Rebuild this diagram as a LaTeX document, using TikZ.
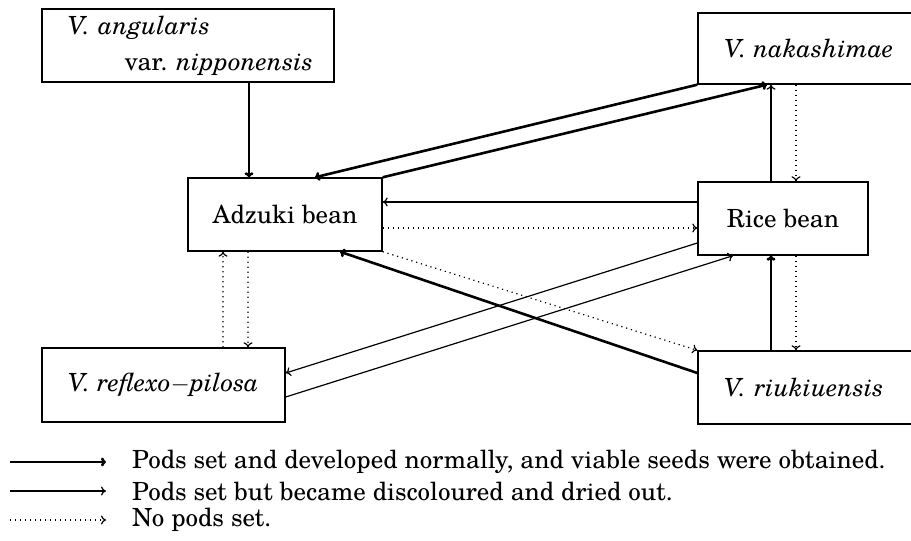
\documentclass[tikz,border=0pt]{standalone}
\usepackage{fontspec}
\IfFontExistsTF{TeX Gyre Schola}{\setmainfont{TeX Gyre Schola}}{\setmainfont{Latin Modern Roman}[FakeStretch=1.15]}
\usetikzlibrary{arrows.meta,calc}
\begin{document}
\begin{tikzpicture}[x=1bp,y=-1bp,
  box/.style={draw, line width=1.4bp, rectangle, inner sep=0pt, font=\fontsize{25bp}{30bp}\selectfont},
  thk/.style={line width=2.6bp, -{To[length=5bp,width=9bp]}},
  thn/.style={line width=1.2bp, -{To[length=5bp,width=9bp]}},
  dotarr/.style={line width=1.2bp, dash pattern=on 1.2bp off 3.8bp, -{To[length=5bp,width=9bp]}},
  lgd/.style={font=\fontsize{25bp}{30bp}\selectfont, anchor=west, inner sep=0pt}]
\useasboundingbox (0,0) rectangle (911,541);
% boxes
\node[box, minimum width=292bp, minimum height=73bp, text width=250bp, inner xsep=21bp, align=left,
      font=\fontsize{25bp}{36bp}\selectfont] (ang) at (188,45.5)
      {\hspace*{5bp}\textit{V. angularis}\\\makebox[250bp][r]{var.\ \textit{nipponensis}}};
\node[box, minimum width=194bp, minimum height=73bp] (adz) at (285,214.5) {Adzuki bean};
\node[box, minimum width=222bp, minimum height=71bp] (nak) at (809,48.5) {\textit{V. nakashimae}};
\node[box, minimum width=170bp, minimum height=73bp] (rice) at (783,218.5) {Rice bean};
\node[box, minimum width=243bp, minimum height=74bp] (ref) at (163.5,385) {\textit{V. reflexo}$-$\textit{pilosa}};
\node[box, minimum width=225bp, minimum height=73bp, text width=173bp, inner xsep=26bp, align=left] (riu) at (810.5,387.5) {\textit{V. riukiuensis}};
% connectors
\draw[thk] ($(ang.south)+(61,0)$) -- ($(adz.north)+(-36,0)$);
\draw[thk] (adz.north east) -- ($(nak.south)+(-42,0)$);
\draw[thk] (nak.south west) -- ($(adz.north)+(30,0)$);
\draw[thn] ($(rice.west)+(0,-16.5)$) -- ($(adz.east)+(0,-12.5)$);
\draw[dotarr] ($(adz.east)+(0,13.5)$) -- ($(rice.west)+(0,9.5)$);
\draw[dotarr] (adz.south east) -- (riu.north west);
\draw[thk] ($(riu.west)+(0,-14.5)$) -- ($(adz.south)+(55,0)$);
\draw[thn] ($(rice.west)+(0,24.5)$) -- ($(ref.east)+(0,-12)$);
\draw[thn] ($(ref.east)+(0,12)$) -- ($(rice.south)+(-50,0)$);
\draw[dotarr] ($(ref.north)+(59.5,0)$) -- ($(adz.south)+(-62,0)$);
\draw[dotarr] ($(adz.south)+(-37,0)$) -- ($(ref.north)+(84.5,0)$);
\draw[thn] ($(rice.north)+(-12,0)$) -- ($(nak.south)+(-38,0)$);
\draw[dotarr] ($(nak.south)+(-13,0)$) -- ($(rice.north)+(13,0)$);
\draw[thk] ($(riu.north)+(-39.5,0)$) -- ($(rice.south)+(-12,0)$);
\draw[dotarr] ($(rice.south)+(13,0)$) -- ($(riu.north)+(-14.5,0)$);
% legend
\coordinate (l1a) at (10,462); \coordinate (l1b) at (106,462);
\coordinate (l2a) at (10,491); \coordinate (l2b) at (106,491);
\coordinate (l3a) at (10,520); \coordinate (l3b) at (106,520);
\draw[thk] (l1a) -- (l1b);
\draw[thn] (l2a) -- (l2b);
\draw[dotarr] (l3a) -- (l3b);
\node[lgd] (t1) at (132,462) {Pods set and developed normally, and viable seeds were obtained.};
\node[lgd] (t2) at (132,491) {Pods set but became discoloured and dried out.};
\node[lgd] (t3) at (132,520) {No pods set.};
\end{tikzpicture}
\end{document}
